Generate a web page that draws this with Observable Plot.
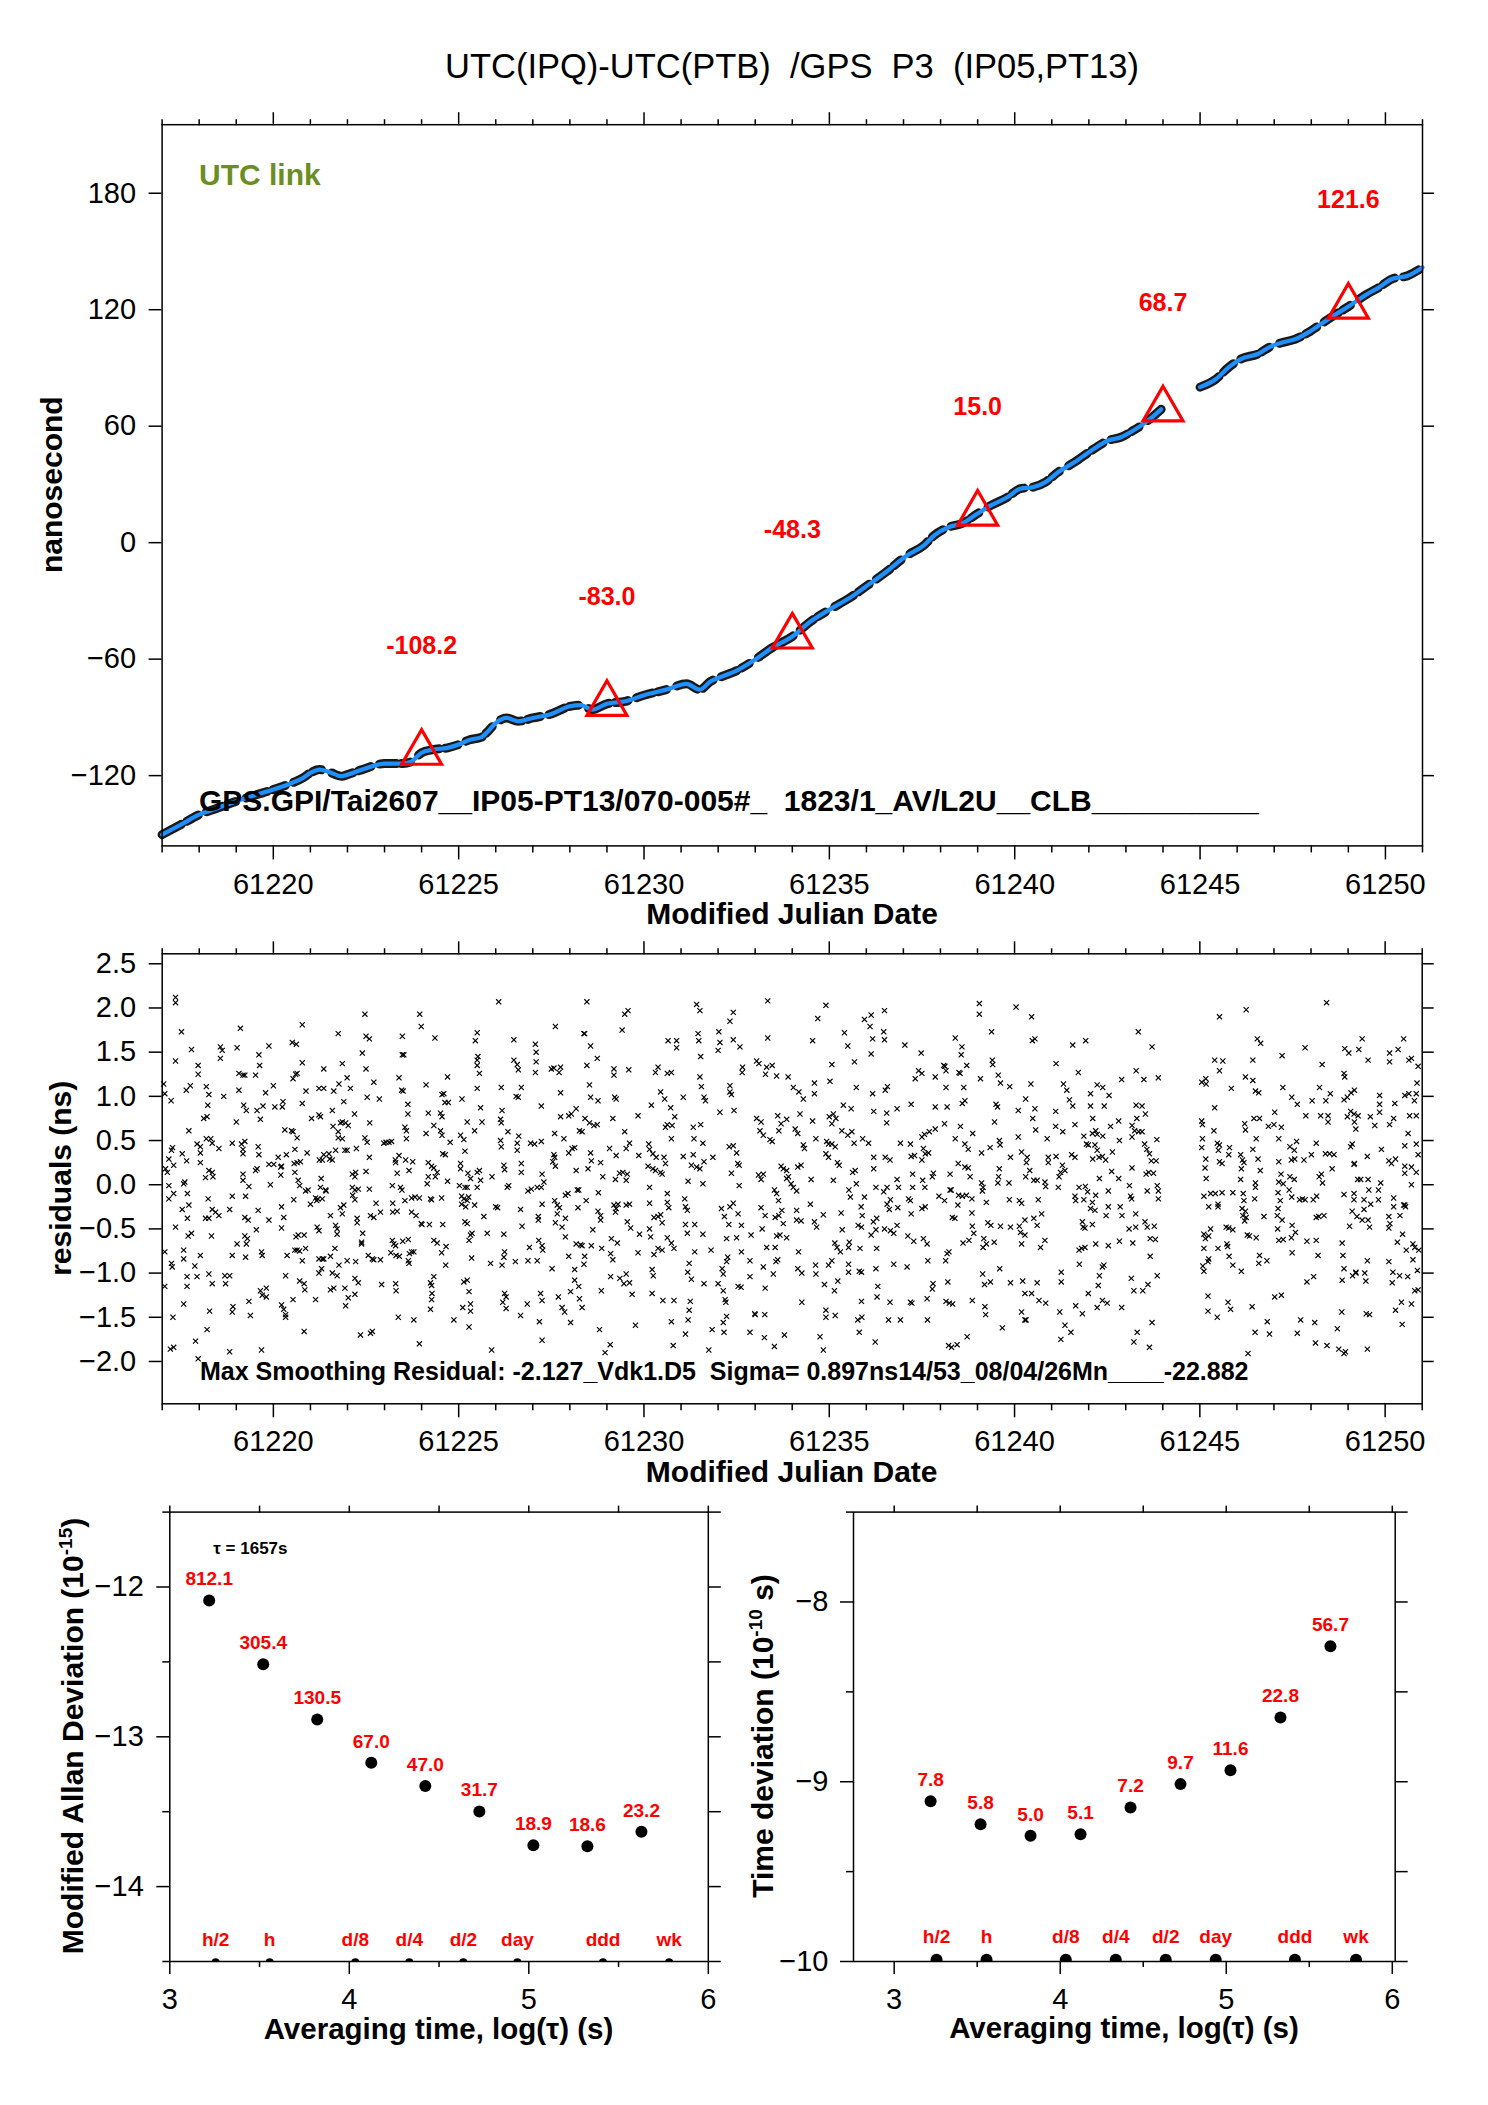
<!DOCTYPE html>
<html><head><meta charset="utf-8">
<script src="https://cdn.jsdelivr.net/npm/d3@7"></script>
<script src="https://cdn.jsdelivr.net/npm/@observablehq/plot@0.6"></script>
<style>
html,body{margin:0;padding:0;background:#fff;}
#page{position:relative;width:1488px;height:2105px;background:#fff;overflow:hidden;}
#page > div{position:absolute;}
#page svg{overflow:visible;}
</style></head>
<body><div id="page"></div>
<script>
// ---------------- DATA ----------------
// Smoothed UTC link curve (MJD, ns)
const smoothPts = [
[61217.0,-150.4],[61217.5,-145.3],[61218.0,-140.1],[61218.5,-136.7],[61219.0,-133.2],[61219.5,-130.1],
[61220.0,-127.2],[61220.5,-123.8],[61220.8,-121.2],[61221.0,-118.6],[61221.25,-116.9],[61221.5,-118.1],
[61221.85,-120.3],[61222.0,-119.5],[61222.4,-116.9],[61223.0,-113.8],[61223.5,-113.8],[61223.7,-113.0],
[61224.0,-108.2],[61224.3,-106.6],[61224.7,-105.7],[61225.0,-104.0],[61225.3,-101.5],[61225.6,-100.3],
[61225.8,-97.0],[61226.0,-92.9],[61226.3,-90.3],[61226.6,-92.0],[61227.0,-90.3],[61227.5,-88.2],
[61228.0,-84.3],[61228.3,-83.7],[61228.6,-86.0],[61229.0,-83.0],[61229.5,-81.7],[61230.0,-78.6],
[61230.6,-75.7],[61231.15,-72.7],[61231.5,-75.7],[61231.8,-71.4],[61232.0,-69.7],[61232.5,-65.9],
[61233.0,-60.2],[61233.45,-54.2],[61234.0,-48.3],[61234.5,-40.5],[61235.0,-34.5],[61235.52,-28.8],
[61235.97,-22.8],[61236.53,-15.1],[61237.1,-6.5],[61237.55,-1.4],[61237.83,3.8],[61238.23,8.1],
[61238.57,9.8],[61239.0,15.0],[61239.36,19.2],[61239.81,23.5],[61240.15,27.8],[61240.5,28.6],
[61240.83,31.2],[61241.17,36.3],[61241.62,41.5],[61242.07,47.5],[61242.52,52.6],[61242.86,54.3],
[61243.2,57.8],[61243.54,62.1],[61243.95,68.7],
[61245.0,80.1],[61245.43,84.3],[61245.77,90.3],[61246.1,94.6],[61246.56,97.2],[61246.9,101.0],
[61247.24,103.2],[61247.58,104.9],[61247.92,108.3],[61248.26,112.6],[61248.6,116.9],[61249.0,121.6],
[61249.5,128.0],[61249.83,131.5],[61250.17,135.8],[61250.6,137.5],[61251.0,141.8]
];
const gapMjd = 61244.5;
// Daily markers (triangles) and their values
const triMjd = [61224, 61229, 61234, 61239, 61244, 61249];
const triNs  = [-108.2, -83.0, -48.3, 15.0, 68.7, 121.6];

// Residuals: pairs of (days after residStartMjd, ns)
const residStartMjd = 61217;
const residPairs = [
.04,1.14,.07,1.03,.24,.95,.36,2.12,.36,2.06,.36,1.40,.52,1.73,.79,1.53,.65,1.07,.76,1.12,.72,.61,.25,.39,.28,.42,.18,.29,.09,.18,.14,.14,.31,.22,.54,.35,.66,.27,.18,-.01,.58,.01,.61,.03,.68,-.10,.18,-.16,.31,-.10,.54,-.28,.72,-.23,.68,-.38,.36,-.48,.70,-.58,.79,-.55,.07,-.76,.58,-.74,.25,-.89,.27,-.93,.58,-.84,.88,-.92,.67,-1.04,.67,-1.15,.07,-1.15,.58,-1.35,.29,-1.50,.22,-1.86,.31,-1.84,.90,-1.77,.97,-1.97,
.97,1.35,.97,1.25,1.19,1.11,1.26,1.02,1.23,.90,1.12,.75,1.21,.77,.94,.46,1.03,.43,1.03,.36,1.19,.52,1.31,.52,1.35,.47,1.53,.41,1.03,.25,1.17,.08,1.26,.16,1.35,.14,1.37,.09,1.24,-.16,1.35,-.28,1.44,-.31,1.53,-.35,1.17,-.38,1.26,-.38,1.33,-.58,1.03,-.80,.94,-1.04,1.26,-1.01,1.35,-1.12,1.28,-1.43,1.21,-1.64,1.57,1.56,1.62,1.52,1.57,1.43,1.66,1.00,1.89,.47,1.82,-.28,1.89,-.13,1.69,-1.03,1.71,-1.12,1.82,-1.03,1.91,-1.38,1.89,-1.44,1.82,-1.89,2.0,.71,
2.02,1.55,2.11,1.77,2.07,1.26,2.18,1.24,2.23,1.24,2.07,1.07,2.20,.90,2.27,.84,2.14,.46,2.18,.40,2.23,.49,2.18,.35,2.52,1.24,2.56,.84,2.63,1.35,2.61,1.47,2.65,.74,2.72,.89,2.79,1.04,2.88,1.57,2.18,.12,2.18,.05,2.34,-.02,2.25,-.13,2.52,.16,2.56,.18,2.59,.43,2.61,.34,2.59,-.29,2.23,-.37,2.32,-.40,2.23,-.58,2.30,-.61,2.27,-.67,2.02,-.67,1.89,-.80,2.25,-.82,2.54,-.51,2.68,-.76,2.70,-.80,2.88,-.40,2.92,.00,2.34,-1.32,2.38,-1.48,2.65,-1.20,2.70,-1.25,2.81,-1.27,2.81,-1.17,2.68,-1.87,
3.0,1.12,3.04,.88,3.24,.88,3.26,.94,2.88,.23,3.01,.23,3.13,.31,3.20,.20,3.22,.21,3.20,.11,3.31,.62,3.35,.34,3.51,1.61,3.62,1.59,3.53,1.20,3.60,1.25,3.64,1.26,3.49,.61,3.53,.60,3.58,.40,3.64,.53,3.56,.24,3.64,.25,3.73,.26,3.58,.14,3.67,.05,3.71,-.01,3.87,-.07,3.94,-.06,3.78,1.38,3.78,1.81,3.88,1.06,3.78,.92,3.91,.36,3.55,-.17,3.22,-.25,3.28,-.37,3.22,-.49,3.61,-.59,3.67,-.57,3.83,-.57,3.58,-.74,3.64,-.74,3.71,-.75,3.87,-.72,3.37,-.80,3.78,-.86,3.33,-1.03,3.22,-1.36,3.28,-1.41,3.33,-1.47,3.33,-1.50,3.53,-1.30,3.71,-1.09,3.83,-1.12,3.85,-1.19,3.83,-1.66,
4.03,.75,4.23,.79,4.27,.77,4.0,-.22,4.14,-.15,4.20,-.16,4.24,.28,4.32,.28,4.36,.34,4.29,.07,4.27,-.03,4.42,-.07,4.36,1.31,4.23,1.09,4.36,1.09,4.63,1.06,4.75,1.71,4.77,1.14,4.86,1.37,4.61,.66,4.59,.84,4.75,.60,4.81,.70,4.86,.71,4.95,.70,5.02,.67,4.90,.94,4.99,1.21,5.08,1.09,4.50,.35,4.52,.29,4.59,.28,4.68,.39,4.75,.53,4.86,.52,4.93,.39,4.32,-.16,4.41,-.06,4.17,-.18,4.54,-.35,4.68,-.46,4.72,-.50,4.72,-.56,4.81,-.26,4.90,-.23,4.86,-.33,4.66,-.72,4.18,-.48,4.23,-.52,4.23,-.84,4.32,-.84,4.36,-.84,4.54,-.81,4.77,-.91,4.99,-.86,4.23,-1.00,4.30,-.95,4.59,-1.00,4.72,-1.03,4.54,-1.19,4.63,-1.17,4.93,-1.17,4.14,-1.30,4.95,-1.37,5.02,-1.28,
5.19,.80,4.99,.39,5.13,.12,5.20,.09,5.22,.14,5.13,-.03,5.20,-.06,5.29,-.05,5.14,-.12,5.20,-.17,5.24,.41,5.40,1.49,5.47,1.93,5.50,1.68,5.59,1.65,5.50,1.31,5.53,.99,5.71,1.16,5.86,.97,5.60,.70,5.47,.53,5.53,.48,5.59,.31,5.50,.15,5.59,-.05,5.98,.47,6.04,.48,6.12,.48,6.19,.49,5.77,-.21,5.62,-.35,5.71,-.37,5.89,-.31,5.26,-.38,5.26,-.43,5.41,-.55,5.38,-.65,5.38,-.67,5.22,-.87,5.56,-.80,5.67,-.84,5.71,-.85,5.89,-.85,5.20,-1.06,5.29,-1.11,5.20,-1.24,5.92,-1.13,5.35,-1.70,5.62,-1.68,5.67,-1.66,
6.21,-.01,6.22,-.21,6.29,.28,6.30,.25,6.34,.13,6.39,.33,6.43,-.03,6.47,-.06,6.48,1.47,6.52,1.47,6.48,1.68,6.39,1.21,6.46,1.07,6.50,1.06,6.63,.91,6.63,.80,6.55,.65,6.59,.61,6.59,.52,6.57,.28,6.66,.16,6.76,.26,6.55,-.18,6.73,-.15,6.82,-.14,6.94,-.15,6.73,-.31,6.85,-.35,6.99,-.44,7.01,-.45,7.21,-.45,6.22,-.31,6.34,-.30,6.21,-.63,6.25,-.67,6.30,-.69,6.17,-.77,6.31,-.80,6.40,-.81,6.49,-.64,6.64,-.62,6.67,-.78,6.73,-.76,6.79,-.76,6.64,-.86,6.66,-.89,6.30,-1.12,6.31,-1.20,6.37,-1.50,6.79,-1.53,6.95,1.93,6.99,1.79,7.12,1.13,7.12,.58,6.94,-1.80,
7.18,.81,7.33,.67,7.51,.61,7.55,.56,7.36,1.66,7.70,1.22,7.55,1.02,7.60,1.03,7.63,.93,7.72,.93,7.51,.81,7.55,.77,7.77,.48,7.57,.35,7.64,.34,7.18,.25,7.27,.21,7.33,.19,7.42,.14,7.37,.09,7.70,.04,7.15,.01,7.24,-.16,7.27,-.17,7.54,-.15,7.57,-.45,7.33,-.63,7.42,-.66,7.66,-.70,7.54,-.77,7.65,-.91,7.33,-1.04,7.24,-1.11,7.27,-1.14,7.28,-1.23,7.27,-1.30,7.24,-1.41,7.87,-1.53,7.18,.09,
8.09,.97,8.05,.56,8.14,.51,8.17,.38,8.23,.71,8.43,.61,8.50,1.72,8.45,1.63,8.52,1.45,8.50,1.41,8.50,1.35,8.56,1.26,8.50,1.09,8.59,.87,8.63,.71,8.05,.24,8.05,.18,8.25,.13,8.32,.07,8.50,.14,8.56,.16,8.59,.05,8.02,-.01,8.17,-.03,8.23,-.03,8.50,-.03,8.08,-.13,8.14,-.16,8.23,-.18,8.27,-.14,8.08,-.22,8.19,-.25,8.43,-.23,8.68,-.36,8.17,-.42,8.23,-.44,8.32,-.57,8.36,-.55,8.28,-.63,8.77,-.55,8.90,.09,8.35,-.83,8.14,-1.10,8.23,-1.08,8.28,-1.21,8.11,-1.39,8.32,-1.35,8.32,-1.43,8.28,-1.61,8.86,-.89,8.89,-1.87,9.08,2.07,
9.15,1.10,9.17,.84,9.13,.74,9.15,.70,9.13,.50,9.15,.43,9.33,.60,9.22,.22,9.24,.17,9.0,-.25,9.05,-.26,9.31,-.03,9.35,-.01,9.58,.47,9.58,.39,9.62,.55,9.49,1.64,9.49,1.41,9.58,1.36,9.61,1.30,9.55,1.00,9.61,.99,9.69,1.10,9.69,.24,9.69,.14,9.87,-.07,9.96,-.05,9.67,-.28,9.71,-.47,9.22,-.56,9.24,-.76,9.22,-.82,9.17,-.91,9.53,-.87,9.91,-.71,9.87,-.86,9.24,-1.23,9.28,-1.27,9.19,-1.33,9.28,-1.40,9.67,-1.48,9.85,-1.35,
10.07,1.59,10.09,1.50,10.09,1.39,10.07,1.27,10.23,.89,9.94,.47,10.05,.46,10.23,.49,10.12,-.03,10.23,-.03,10.25,.12,10.30,.03,10.25,-.22,10.15,-.36,10.15,-.40,10.16,-.63,10.25,-.69,10.27,-.74,10.12,-.86,10.50,1.31,10.57,1.32,10.75,1.33,10.71,1.27,10.61,1.79,10.75,1.04,10.75,.77,10.97,.78,11.04,.80,11.17,.86,10.59,.58,10.84,.52,10.57,.34,10.59,.31,10.54,.26,10.61,.21,10.97,.36,11.06,.41,11.13,.42,10.88,-.12,10.95,-.10,10.59,-.18,10.66,-.23,10.72,-.26,10.66,-.33,10.88,-.38,10.61,-.43,10.79,-.48,10.88,-.59,10.52,-.95,10.21,-1.23,10.25,-1.31,10.18,-1.55,10.25,-1.76,10.69,-1.27,10.79,-1.39,10.86,-1.44,11.02,-1.56,10.97,-.81,11.13,-.96,11.17,-.67,11.29,-.68,11.33,-.69,11.02,-1.21,11.13,-1.08,11.24,-1.15,11.26,-1.29,11.33,-1.39,11.20,-.06,11.24,-.06,11.17,.16,11.22,-.26,11.26,.61,11.33,.60,11.38,1.71,
11.46,2.07,11.40,1.71,11.56,1.57,11.74,1.43,11.46,1.35,11.53,1.13,11.56,.99,11.76,.95,11.41,.75,11.53,.70,11.65,.67,11.74,.68,11.56,.36,11.58,.27,11.83,.25,11.49,.18,11.89,.09,11.77,-.09,11.44,-.18,11.76,-.30,11.83,-.35,11.83,-.40,11.62,-.51,11.58,-.69,11.86,-.72,11.40,-.81,11.38,-.90,11.85,-1.20,11.80,-1.64,11.95,-1.90,12.09,-1.81,
12.19,1.31,12.19,1.24,12.41,1.75,12.48,1.93,12.57,1.97,12.59,1.30,12.21,.99,12.25,.97,12.16,.75,12.48,.60,12.07,.41,12.25,.33,12.52,.41,12.61,.47,12.84,.78,12.86,.33,12.34,.13,12.43,.14,12.55,.12,12.52,.05,12.23,.06,12.19,-.23,12.25,-.27,12.30,-.22,12.52,-.23,12.61,-.22,12.23,-.31,12.55,-.42,12.64,-.49,12.12,-.61,12.28,-.66,12.10,-.78,12.16,-.85,12.84,-.77,12.88,-.56,12.10,-1.04,12.35,-1.06,12.52,-1.01,12.61,-1.11,12.46,-1.12,12.68,-1.24,12.77,-1.59,
13.13,.46,13.15,.40,13.24,.35,13.33,.31,13.20,.90,13.38,1.33,13.31,1.27,13.45,1.05,13.56,.97,13.65,1.63,13.88,1.63,13.88,1.55,13.63,1.26,13.74,1.27,13.72,.87,13.83,.77,13.76,.67,13.58,.65,13.63,.68,13.74,.52,13.11,.21,13.24,.18,13.31,.16,13.45,.14,13.49,.12,13.54,.31,13.58,.24,13.15,-.03,13.15,-.21,13.27,-.37,13.38,-.36,13.45,-.34,13.49,-.43,13.63,-.10,13.63,-.20,13.67,-.26,13.15,-.50,13.18,-.59,13.38,-.72,13.49,-.74,13.27,-.79,13.63,-.60,13.74,-.66,13.81,-.72,13.22,-.96,13.25,-1.03,13.22,-1.23,13.51,-1.31,13.81,-1.31,13.74,-1.55,13.79,-1.82,
14.06,.99,14.10,-.16,14.12,-.25,14.17,-.29,14.19,.04,14.06,.32,14.28,.22,14.33,.34,14.42,.20,14.51,.18,14.62,.26,14.33,.65,14.53,.68,14.59,.47,14.35,.52,14.42,2.04,14.51,1.97,14.46,1.71,14.48,1.63,14.53,1.45,14.51,1.22,14.55,1.11,14.62,.99,14.66,.95,14.59,.01,14.12,-.45,14.37,-.45,14.17,-.55,14.59,-.56,14.37,-.76,14.22,-.89,14.18,-.99,14.28,-1.07,14.62,-1.12,14.25,-1.32,14.22,-1.42,14.19,-1.53,14.12,-1.69,14.81,-.74,14.86,.31,14.75,-1.87,14.84,-1.64,
15.02,1.73,15.05,1.61,15.00,1.52,15.05,.82,15.32,1.85,15.41,1.95,15.41,1.64,15.59,1.56,15.66,1.33,15.65,1.27,15.32,1.12,15.32,1.05,15.36,1.02,15.43,.84,15.30,.43,15.41,.44,15.50,.36,15.53,.24,15.57,.22,15.36,.13,15.57,-.01,15.09,-.27,15.17,-.36,15.32,-.25,15.41,-.21,15.54,-.33,15.29,-.45,15.63,-.46,15.23,-.61,15.50,-.60,15.63,-.76,15.89,-.57,15.26,-.82,15.23,-.87,15.11,-.95,15.14,-1.01,15.00,-1.12,15.14,-1.20,15.19,-1.30,15.21,-1.33,15.54,-1.15,15.62,-1.16,15.86,-1.04,15.86,-.86,15.23,-1.49,15.14,-1.56,15.16,-1.67,15.86,-1.67,15.99,-1.46,
16.04,1.40,16.10,1.37,16.34,2.08,16.34,1.66,16.31,1.33,16.28,1.25,16.46,1.35,16.58,1.23,16.89,1.22,16.04,.75,16.16,.71,16.13,.61,16.22,.56,16.40,.51,16.46,.49,16.61,.78,16.70,.69,16.64,.61,16.85,.74,16.09,.11,16.16,.06,16.22,.12,16.52,-.06,16.58,-.10,16.70,.21,16.76,.18,16.85,.16,16.85,.07,16.97,.01,16.16,-.26,16.27,-.35,16.63,-.18,16.72,-.29,16.54,-.37,16.64,-.35,16.76,-.44,16.19,-.50,16.58,-.58,16.67,-.57,16.85,-.60,16.31,-.71,16.54,-.71,16.56,-.87,16.61,-.85,16.22,-.93,16.49,-1.01,16.27,-1.17,16.00,-1.47,16.26,-1.47,16.25,-1.73,16.52,-1.83,16.79,-1.70,
17.08,.63,17.15,.58,17.21,.80,17.03,1.10,17.18,1.05,17.30,.97,17.55,1.63,17.60,1.15,17.60,1.03,17.69,1.88,17.91,2.03,17.55,.72,17.30,.45,17.33,.41,17.64,.52,17.24,.22,17.15,.20,16.90,.09,17.12,-.07,17.03,-.03,17.51,.06,17.12,-.29,17.12,-.40,17.24,-.41,17.49,-.22,17.60,-.42,17.66,-.48,17.84,-.34,17.17,-.76,17.15,-.95,17.26,-1.00,17.63,-.91,17.64,-1.01,17.98,-.91,17.26,-1.33,17.87,-1.13,17.91,-1.42,17.91,-1.50,17.75,-1.72,17.84,-1.87,17.93,.49,17.98,.46,
18.07,1.36,18.02,1.17,18.00,.77,18.11,.80,18.18,.75,18.07,.69,18.34,.61,18.41,1.72,18.38,.90,18.50,1.57,18.68,1.39,18.59,.86,18.73,1.10,18.95,1.87,19.13,1.92,19.10,1.79,18.50,.56,18.61,.60,18.67,.47,18.90,.52,19.06,.47,18.07,.46,18.16,.43,17.91,.35,17.98,.31,18.22,.25,18.27,.22,18.63,.14,18.70,.16,18.11,.05,18.53,-.06,18.57,-.14,18.73,.01,18.95,-.14,18.32,-.32,18.86,-.25,18.89,-.35,18.35,-.51,18.78,-.46,18.87,-.48,18.15,-.66,18.21,-.71,18.30,-.76,18.54,-.65,18.52,-.71,18.83,-.72,18.07,-.86,18.52,-.90,18.52,-.99,18.81,-.98,18.87,-.99,18.23,-1.09,18.14,-1.20,18.16,-1.48,18.87,-1.32,18.77,-1.53,18.88,-1.50,18.81,-1.67,
19.13,1.48,19.17,1.65,19.47,1.73,19.49,1.64,19.49,1.97,19.17,1.03,19.51,1.07,19.57,1.11,19.20,.83,19.55,.81,19.55,.70,19.83,.86,20.04,1.58,19.92,.47,19.20,.31,19.20,.18,19.51,.31,19.64,.28,19.26,-.03,19.56,-.03,19.47,-.08,19.65,-.17,19.56,-.22,19.62,-.28,19.85,-.26,19.83,.06,19.87,-.03,19.28,-.38,19.19,-.42,19.13,-.57,19.26,-.51,19.49,-.50,19.65,-.52,19.74,-.55,19.83,-.46,19.28,-.72,19.26,-.95,19.74,-.90,20.10,-.93,19.31,-1.15,19.29,-1.27,19.64,-1.33,19.60,-1.53,19.92,-1.53,19.24,-1.78,
20.21,.91,20.48,1.49,20.32,1.20,20.41,1.29,20.50,1.26,20.86,1.22,21.12,1.34,21.15,1.10,20.86,.88,21.18,.88,21.11,.69,20.50,.54,20.57,.57,20.70,.60,20.86,.63,20.54,.41,20.59,.35,20.68,.36,20.19,.46,20.21,.32,20.30,.33,20.50,.28,20.25,.12,20.52,.05,20.81,.13,20.78,.09,20.25,-.03,20.58,-.03,20.14,-.16,20.19,-.18,20.21,-.33,20.59,-.25,20.50,-.27,20.96,-.13,21.11,-.18,21.26,-.06,20.12,-.58,20.28,-.64,20.54,-.61,20.64,-.67,20.66,-.86,20.19,-1.33,20.23,-1.34,20.64,-1.29,20.80,-1.12,20.78,-1.18,20.65,-1.53,21.20,-1.10,21.15,-1.32,21.24,-1.34,21.33,-1.35,
21.40,1.66,21.58,1.56,21.56,1.47,21.09,1.35,21.15,1.29,21.50,1.27,21.53,1.26,21.71,1.35,21.63,1.10,21.66,.95,21.59,.92,21.54,.66,21.87,.58,21.40,.52,21.66,.46,21.75,.40,22.05,2.05,22.05,1.93,22.08,1.20,21.48,.24,21.66,.20,21.75,.19,21.26,.12,21.80,.09,21.29,-.06,21.49,-.12,21.59,-.13,21.70,-.12,21.47,-.23,21.85,-.16,21.32,-.37,21.39,-.38,21.85,-.32,21.86,-.47,21.90,-.55,21.61,-.66,21.77,-.63,21.18,-.78,21.23,-.76,21.14,-.86,21.86,-1.31,21.22,-1.82,21.30,-1.84,21.45,-1.81,21.72,-1.72,
22.38,1.73,22.40,1.41,22.41,1.36,22.56,1.24,22.62,1.15,22.50,.91,22.54,.88,22.46,.71,22.59,.50,22.61,.45,22.11,.36,22.34,.42,22.59,.18,22.57,.09,22.55,.02,22.11,.02,22.15,-.03,22.13,-.07,22.24,-.20,22.28,-.43,22.36,-.46,22.62,-.47,22.17,-.61,22.24,-.67,22.45,-.65,22.15,-.71,22.60,-.95,22.14,-1.01,22.19,-1.13,22.35,-1.10,22.20,-1.38,22.22,-1.47,22.67,-1.62,
23.04,2.01,23.46,1.90,23.48,1.63,23.55,1.65,22.87,1.11,23.44,1.14,23.30,.97,23.10,.84,23.55,.86,23.49,.75,23.57,.62,23.10,.54,22.89,.31,23.19,.37,23.34,.31,23.32,.25,23.41,.16,23.30,.09,23.52,.05,23.61,.05,23.82,.03,23.84,-.02,22.85,.02,22.86,-.17,23.13,-.18,23.19,-.21,23.64,-.17,23.73,-.33,23.28,-.40,23.52,-.38,23.61,-.46,22.89,-.48,23.13,-.47,23.16,-.54,23.28,-.57,23.19,-.67,23.82,-.63,23.70,-.71,22.89,-1.11,23.22,-1.09,23.61,-1.11,23.28,-1.23,23.46,-1.23,23.66,-1.31,23.84,-1.34,23.19,-1.44,23.28,-1.53,23.31,-1.53,
24.12,1.37,24.57,1.58,24.92,1.63,24.72,1.27,24.32,1.14,24.41,1.07,24.48,.96,24.57,.89,24.11,.83,24.11,.66,24.30,.60,24.63,.68,24.87,.55,24.94,.46,23.88,.52,23.91,.31,23.91,.25,24.12,.32,24.29,.22,24.36,.16,24.24,.14,24.20,.09,24.18,-.03,24.54,.34,24.63,.31,24.74,-.03,24.91,-.02,24.97,-.08,24.63,-.13,24.65,-.18,24.87,-.17,24.83,-.42,24.85,-.48,24.90,-.49,25.10,-.45,25.05,-.27,25.17,-.29,24.74,-.74,24.81,-.72,24.90,-.71,24.75,-.90,24.26,-.99,24.26,-1.10,24.99,-1.23,24.22,-1.44,24.65,-1.37,24.83,-1.46,24.36,-1.59,24.52,-1.67,24.25,-1.75,
25.05,1.03,25.23,1.13,25.38,1.10,25.55,1.01,25.05,.89,25.42,.89,25.11,.75,25.89,1.19,26.28,1.29,26.49,1.19,25.10,.58,25.19,.61,25.23,.57,25.38,.55,24.99,.45,25.17,.45,25.23,.39,25.28,.31,25.37,.32,25.46,.28,25.59,.66,25.81,.72,25.83,.50,25.64,.37,25.11,.29,25.62,.15,25.29,.07,25.81,.07,25.53,-.07,25.19,-.12,25.10,-.20,25.53,-.25,25.47,-.35,25.85,-.25,25.90,-.35,25.83,-.64,25.19,-.67,25.53,-.69,25.41,-.91,25.37,-.93,25.29,-1.03,25.26,-1.14,25.37,-1.31,25.50,-1.34,25.23,-1.39,25.89,-1.39,
26.34,1.73,26.71,1.56,26.88,1.21,26.28,.90,26.44,.89,26.53,.80,26.30,.75,26.17,.67,26.24,.61,26.35,.60,26.44,.60,26.17,.54,26.51,.46,26.57,.40,26.64,.35,26.69,.27,26.82,.27,26.84,.51,26.17,.19,26.55,.12,26.62,.14,26.75,.13,26.10,-.01,26.13,-.13,26.16,-.16,26.58,-.07,26.85,-.01,26.88,-.07,26.88,-.16,26.27,-.33,26.09,-.50,26.27,-.48,26.52,-.42,26.58,-.48,26.77,-.47,26.19,-.66,26.66,-.61,26.80,-.62,26.66,-.81,26.15,-1.06,26.85,-1.03,26.22,-1.20,26.46,-1.20,26.60,-1.13,26.71,-1.56,26.31,-1.67,26.22,-1.78,26.64,-1.84,
28.05,1.16,28.16,1.20,28.17,1.14,28.40,1.41,28.53,1.29,28.62,1.40,28.53,1.90,28.40,.87,28.05,.72,28.07,.68,28.38,.61,28.07,.52,28.05,.42,28.47,.47,28.53,.45,28.16,.29,28.14,.19,28.17,.07,28.50,.39,28.53,.26,28.60,.24,28.80,.42,28.78,.34,28.85,1.09,28.11,-.13,28.29,-.10,28.42,-.10,28.60,-.09,28.89,-.09,28.24,-.25,28.49,-.22,28.49,-.25,28.29,-.50,28.24,-.58,28.11,-.56,28.15,-.61,28.71,-.48,28.78,-.49,28.89,-.51,28.73,-.67,28.75,-.70,28.11,-.72,28.49,-.72,28.79,-.81,28.89,-.91,28.24,-.84,28.22,-.87,28.08,-.92,28.11,-.98,29.12,-.98,28.22,-1.26,28.22,-1.43,28.47,-1.50,28.76,-1.33,28.83,-1.41,29.30,-1.91,29.25,1.98,
29.55,1.65,29.64,1.60,29.43,1.41,29.23,1.22,29.43,1.18,29.50,1.06,29.59,1.04,29.21,.69,29.23,.62,29.46,.75,29.61,.75,29.85,.66,30.00,.68,30.20,.65,30.02,.82,29.52,.52,29.43,.40,29.10,.34,29.15,.28,29.19,.25,29.12,.18,29.57,.29,29.63,.16,29.50,.02,29.50,-.03,29.10,.06,29.17,-.10,29.19,-.18,29.14,-.27,29.23,-.30,29.48,-.16,29.16,-.35,29.25,-.37,29.21,-.41,29.73,-.36,29.28,-.57,29.34,-.58,29.52,-.60,29.61,-.80,29.59,-.89,29.81,-.86,29.41,-1.38,29.49,-1.67,29.82,-1.55,29.88,-1.69,30.02,-1.27,30.20,-1.25,
30.22,1.46,30.84,1.55,30.24,1.10,30.48,.99,30.63,.91,31.03,.95,30.86,.78,31.23,1.10,30.13,.52,30.43,.43,30.61,.49,30.55,.39,30.13,.26,30.47,.28,30.56,.29,30.81,.28,31.01,.34,31.14,.47,30.19,.12,30.13,.03,30.25,.01,30.43,.09,30.55,.06,30.41,-.06,30.48,-.14,30.11,-.09,30.17,-.18,30.69,-.17,30.77,-.16,30.84,-.17,31.06,-.17,31.15,-.13,30.11,-.27,30.09,-.35,30.22,-.40,30.10,-.50,30.49,-.46,30.58,-.54,30.13,-.63,30.25,-.62,30.47,-.60,30.89,-.64,31.14,-.63,30.49,-.77,31.19,-.80,30.89,-1.10,31.07,-1.04,30.72,-1.53,30.63,-1.68,31.10,-1.56,31.12,-1.79,
31.42,2.06,31.30,1.36,31.91,1.54,32.02,1.49,32.29,1.53,31.89,1.26,31.91,1.22,31.52,1.03,31.40,.95,31.89,.96,31.98,.99,32.08,1.04,32.17,1.07,31.46,.78,31.46,.71,31.26,.78,31.98,.77,32.07,.83,32.16,.80,32.27,.78,32.17,.71,32.21,.63,31.50,.35,31.62,.34,32.11,.46,32.07,.43,31.39,.35,31.57,.18,32.17,.24,31.28,.12,31.22,.09,31.31,.02,32.26,.06,31.89,-.11,32.16,-.17,32.11,-.30,32.24,-.36,31.14,-.37,31.21,-.36,31.35,-.35,32.04,-.47,31.84,-.66,31.86,-.80,31.89,-.95,31.84,-1.08,32.12,-1.03,32.21,-.99,31.83,-1.44,31.71,-1.63,31.89,-1.91,31.93,-1.89,31.75,-1.86,31.43,-1.82,
32.38,1.65,32.54,1.41,32.85,1.01,32.85,.91,32.85,.82,32.60,.77,32.72,.67,33.12,.68,33.23,.75,33.26,.92,33.12,1.49,33.12,1.39,33.35,1.53,33.50,1.65,32.90,.40,32.52,.32,32.16,.23,33.10,.27,33.17,.24,33.28,.29,32.34,.06,32.54,.06,32.88,.02,32.82,-.06,32.56,-.06,32.16,-.10,32.43,-.17,32.61,-.22,32.82,-.17,33.23,-.15,33.50,-.23,33.55,-.25,33.23,-.25,32.43,-.28,32.54,-.40,32.38,-.40,32.58,-.48,33.10,-.36,33.13,-.44,33.10,-.49,33.40,-.35,33.47,-.56,32.52,-.86,32.45,-1.00,32.48,-1.09,32.21,-1.00,33.10,-.87,33.33,-.65,33.21,-.99,33.19,-1.11,33.39,-1.03,33.61,-1.04,32.49,-1.46,32.58,-1.47,32.52,-1.86,33.28,-1.42,33.44,-1.33,33.46,-1.58,33.71,-1.35,
33.53,1.01,33.64,1.03,33.84,1.03,33.64,1.41,33.71,1.43,33.89,1.34,33.86,1.15,33.79,.95,33.66,.78,33.84,.78,33.62,.58,33.53,.44,33.84,.46,33.89,.34,33.53,.21,33.53,.13,33.71,.20,33.84,.14,33.71,.00,33.53,-.23,33.80,-.71,33.75,-.67,33.91,-.74,33.57,-.74,33.75,-.85,33.87,-.97,33.80,-1.20,33.89,-1.19
];

// Stability analysis
const tauSec  = [1657, 3314, 6628, 13256, 26512, 53024, 106048, 212096, 424192];
const adevE15 = [812.1, 305.4, 130.5, 67.0, 47.0, 31.7, 18.9, 18.6, 23.2];   // x 1e-15
const tdevE10 = [7.8, 5.8, 5.0, 5.1, 7.2, 9.7, 11.6, 22.8, 56.7];            // x 1e-10 s
const markName = ["h/2", "h", "d/8", "d/4", "d/2", "day", "ddd", "wk"];
const markSec  = [1800, 3600, 10800, 21600, 43200, 86400, 259200, 604800];

// Tick values
const mjdMajor = [61220, 61225, 61230, 61235, 61240, 61245, 61250];
const mjdMinor = d3.range(61217, 61252).filter(d => d % 5 !== 0);
const nsTicks = [-120, -60, 0, 60, 120, 180];
const resTicks = [-2.0, -1.5, -1.0, -0.5, 0.0, 0.5, 1.0, 1.5, 2.0, 2.5];
const logMajor = [3, 4, 5, 6], logMinor = [3.5, 4.5, 5.5];
const adevMajor = [-14, -13, -12], adevMinor = [-14.5, -13.5, -12.5, -11.5];
const tdevMajor = [-10, -9, -8], tdevMinor = [-9.5, -8.5, -7.5];

// ---------------- BUILD ----------------
const FONT = "'Liberation Sans', Arial, Helvetica, sans-serif";
const page = document.getElementById("page");
function place(node, left, top) {
  const d = document.createElement("div");
  d.style.left = left + "px"; d.style.top = top + "px";
  d.appendChild(node); page.appendChild(d);
}
const baseStyle = {fontFamily: FONT, fontSize: "29px", background: "transparent", overflow: "visible", color: "black"};

function frameAxes(o) {
  const c = {label: null, stroke: "black", strokeWidth: 1.5, fill: "black", fontSize: o.fs || 29};
  const n = {label: null, stroke: "black", strokeWidth: 1.5, fill: "none"};
  const m = [
    Plot.axisX(o.xMaj, {...c, anchor: "bottom", tickSize: o.bMaj, tickPadding: o.xPad, tickFormat: o.xFmt}),
    Plot.axisX(o.xMin, {...n, anchor: "bottom", tickSize: o.bMin}),
    Plot.axisX(o.xMaj, {...n, anchor: "top", tickSize: o.tMaj}),
    Plot.axisX(o.xMin, {...n, anchor: "top", tickSize: o.tMin}),
    Plot.axisY(o.yMaj, {...c, anchor: "left", tickSize: o.lMaj, tickPadding: o.yPad, tickFormat: o.yFmt}),
    Plot.axisY(o.yMaj, {...n, anchor: "right", tickSize: o.rMaj})
  ];
  if (o.yMin) {
    m.push(Plot.axisY(o.yMin, {...n, anchor: "left", tickSize: o.lMin}));
    m.push(Plot.axisY(o.yMin, {...n, anchor: "right", tickSize: o.rMin}));
  }
  return m;
}

// Top panel
const smooth = smoothPts.map(([mjd, ns]) => ({mjd, ns, seg: mjd < gapMjd ? 0 : 1}));
const tri = triMjd.map((mjd, i) => ({mjd, ns: triNs[i]}));
const topPlot = Plot.plot({
  width: 1488, height: 940,
  marginLeft: 161.6, marginRight: 66, marginTop: 124.2, marginBottom: 94.6,
  x: {domain: [61217, 61251]},
  y: {domain: [-156.2, 215.3]},
  style: baseStyle,
  marks: [
    ...frameAxes({xMaj: mjdMajor, xMin: mjdMinor, yMaj: nsTicks, xFmt: d3.format("d"), yFmt: d3.format("d"),
      bMaj: 14, bMin: 7, tMaj: 13, tMin: 6, lMaj: 13, rMaj: 11, xPad: 14, yPad: 13}),
    Plot.line(smooth, {x: "mjd", y: "ns", z: "seg", stroke: "black", strokeWidth: 9, strokeOpacity: 0.9,
      strokeDasharray: "22 6 13 9 17 5 9 11", curve: "monotone-x"}),
    Plot.line(smooth, {x: "mjd", y: "ns", z: "seg", stroke: "#1e90ff", strokeWidth: 4.2, curve: "monotone-x"}),
    Plot.dot(tri, {x: "mjd", y: "ns", symbol: "triangle", r: 14.85, stroke: "red", strokeWidth: 3.2, fill: "none"}),
    Plot.text(tri, {x: "mjd", y: "ns", text: d => d.ns.toFixed(1), dy: -98.5, lineAnchor: "bottom",
      fill: "red", fontWeight: "bold", fontSize: 25}),
    Plot.frame({stroke: "black", strokeWidth: 1.5})
  ]
});
place(topPlot, 0, 0);

// Residual panel
const resid = [];
for (let i = 0; i < residPairs.length; i += 2) resid.push({mjd: residStartMjd + residPairs[i], v: residPairs[i + 1]});
const resPlot = Plot.plot({
  width: 1488, height: 560,
  marginLeft: 161.7, marginRight: 66.3, marginTop: 13.3, marginBottom: 96.7,
  x: {domain: [61217, 61251]},
  y: {domain: [-2.479, 2.613]},
  style: baseStyle,
  marks: [
    ...frameAxes({xMaj: mjdMajor, xMin: mjdMinor, yMaj: resTicks, xFmt: d3.format("d"), yFmt: d3.format(".1f"),
      bMaj: 14, bMin: 7, tMaj: 13, tMin: 6, lMaj: 13, rMaj: 11, xPad: 12.5, yPad: 13}),
    Plot.dot(resid, {x: "mjd", y: "v", symbol: "times", r: 2.45, stroke: "black", strokeWidth: 1.15}),
    Plot.frame({stroke: "black", strokeWidth: 1.5})
  ]
});
place(resPlot, 0, 940);

// Bottom-left: modified Allan deviation
const adev = tauSec.map((s, i) => ({lt: Math.log10(s), ly: Math.log10(adevE15[i] * 1e-15), lab: adevE15[i].toFixed(1)}));
const tdev = tauSec.map((s, i) => ({lt: Math.log10(s), ly: Math.log10(tdevE10[i] * 1e-10), lab: tdevE10[i].toFixed(1)}));
const marks = markSec.map((s, i) => ({lt: Math.log10(s), name: markName[i]}));
const adevFloor = -14.5, tdevFloor = -10;

const adevPlot = Plot.plot({
  width: 760, height: 605,
  marginLeft: 169.3, marginRight: 52.2, marginTop: 11.6, marginBottom: 144,
  x: {domain: [3, 6]},
  y: {domain: [-14.5, -11.5]},
  style: baseStyle,
  marks: [
    ...frameAxes({xMaj: logMajor, xMin: logMinor, yMaj: adevMajor, yMin: adevMinor, xFmt: d3.format("d"), yFmt: d3.format("d"),
      bMaj: 13, bMin: 6, tMaj: 7, tMin: 7, lMaj: 13, lMin: 7, rMaj: 12, rMin: 12, xPad: 13.5, yPad: 13}),
    Plot.dot(marks, {x: "lt", y: () => adevFloor, r: 4, fill: "black", dy: 0.7, clip: true}),
    Plot.text(marks, {x: "lt", y: () => adevFloor, text: "name", dy: -15.3, lineAnchor: "bottom", fill: "red", fontWeight: "bold", fontSize: 19}),
    Plot.dot(adev, {x: "lt", y: "ly", r: 6, fill: "black"}),
    Plot.text(adev, {x: "lt", y: "ly", text: "lab", dy: -15.3, lineAnchor: "bottom", fill: "red", fontWeight: "bold", fontSize: 19}),
    Plot.frame({stroke: "black", strokeWidth: 1.5})
  ]
});
place(adevPlot, 0, 1500);

// Bottom-right: time deviation
const tdevPlot = Plot.plot({
  width: 728, height: 605,
  marginLeft: 93, marginRight: 93.3, marginTop: 11.6, marginBottom: 144,
  x: {domain: [2.755, 6.0175]},
  y: {domain: [-10, -7.5]},
  style: baseStyle,
  marks: [
    ...frameAxes({xMaj: logMajor, xMin: logMinor, yMaj: tdevMajor, yMin: tdevMinor, xFmt: d3.format("d"), yFmt: d3.format("d"),
      bMaj: 13, bMin: 6, tMaj: 7, tMin: 7, lMaj: 13, lMin: 7, rMaj: 12, rMin: 12, xPad: 13.5, yPad: 12}),
    Plot.dot(marks, {x: "lt", y: () => tdevFloor, r: 6, fill: "black", dy: -1.7, clip: true}),
    Plot.text(marks, {x: "lt", y: () => tdevFloor, text: "name", dy: -18.3, lineAnchor: "bottom", fill: "red", fontWeight: "bold", fontSize: 19}),
    Plot.dot(tdev, {x: "lt", y: "ly", r: 6, fill: "black"}),
    Plot.text(tdev, {x: "lt", y: "ly", text: "lab", dy: -15.3, lineAnchor: "bottom", fill: "red", fontWeight: "bold", fontSize: 19}),
    Plot.frame({stroke: "black", strokeWidth: 1.5})
  ]
});
place(tdevPlot, 760, 1500);

// ---------------- TEXT OVERLAY ----------------
const ov = d3.create("svg").attr("width", 1488).attr("height", 2105)
  .style("position", "absolute").style("left", 0).style("top", 0).style("pointer-events", "none")
  .attr("font-family", FONT);
function txt(x, y, s, o = {}) {
  const t = ov.append("text").attr("x", x).attr("y", y)
    .attr("font-size", o.size || 30).attr("font-weight", o.weight || "bold")
    .attr("fill", o.fill || "black").attr("text-anchor", o.anchor || "start")
    .attr("xml:space", "preserve").style("white-space", "pre").text(s);
  return t;
}
function rot(x, y, parts, size) {
  const t = ov.append("text").attr("transform", `translate(${x},${y}) rotate(-90)`)
    .attr("text-anchor", "middle").attr("font-weight", "bold").attr("font-size", size)
    .attr("xml:space", "preserve").style("white-space", "pre");
  for (const p of parts) {
    const s = t.append("tspan").text(p.t);
    if (p.dy) s.attr("dy", p.dy);
    if (p.size) s.attr("font-size", p.size);
  }
  return t;
}
txt(792, 78, "UTC(IPQ)-UTC(PTB)  /GPS  P3  (IP05,PT13)", {size: 34.5, weight: "normal", anchor: "middle"});
txt(199, 184.8, "UTC link", {size: 30, fill: "#6b8e23"});
txt(199, 811, "GPS.GPI/Tai2607__IP05-PT13/070-005#_  1823/1_AV/L2U__CLB__________", {size: 30});
txt(792, 924, "Modified Julian Date", {size: 30, anchor: "middle"});
rot(62, 484.7, [{t: "nanosecond"}], 30);

txt(200, 1380, "Max Smoothing Residual: -2.127_Vdk1.D5  Sigma= 0.897ns14/53_08/04/26Mn____-22.882", {size: 25});
txt(791.7, 1482, "Modified Julian Date", {size: 30, anchor: "middle"});
rot(71, 1178.3, [{t: "residuals (ns)"}], 30);

txt(213.3, 1554.3, "\u03c4 = 1657s", {size: 17});
rot(83.3, 1736, [{t: "Modified Allan Deviation (10"}, {t: "-15", dy: -11, size: 19}, {t: ")", dy: 11}], 30);
txt(438.5, 2038.5, "Averaging time, log(\u03c4) (s)", {size: 29.5, anchor: "middle"});

rot(773, 1736, [{t: "Time deviation (10"}, {t: "-10", dy: -11, size: 19}, {t: " s)", dy: 11}], 30);
txt(1124, 2037.7, "Averaging time, log(\u03c4) (s)", {size: 29.5, anchor: "middle"});

page.appendChild(ov.node());
</script>
</body></html>
